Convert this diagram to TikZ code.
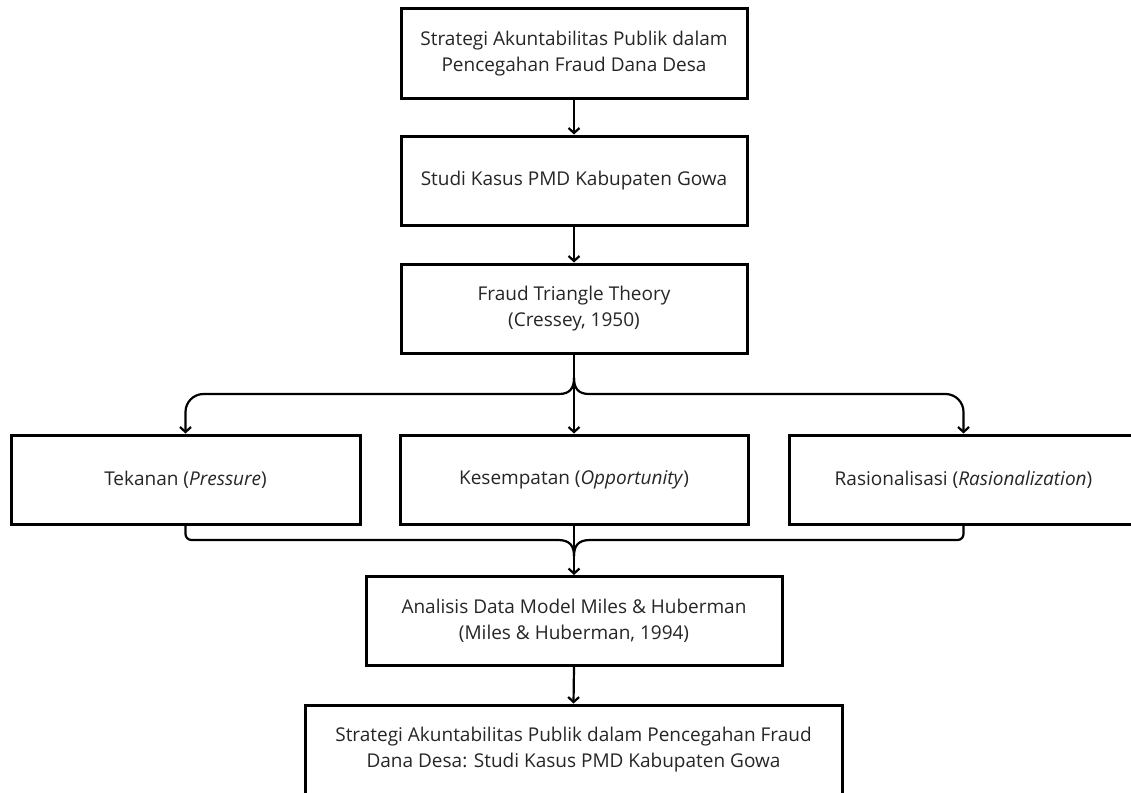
\documentclass[tikz,border=0pt]{standalone}
\usepackage{fontspec}
\setmainfont{Open Sans}
\usetikzlibrary{arrows.meta}
\begin{document}
\begin{tikzpicture}[x=1pt,y=1pt,
  box/.style={draw=black, line width=3pt, fill=white, align=center, minimum height=89pt,
    text=black!85, font=\fontsize{19}{26}\selectfont},
  arr/.style={line width=2.2pt, -{Straight Barb[length=5pt,width=11pt,line width=2.2pt]}},
  link/.style={line width=2.2pt}]
\useasboundingbox (0,0) rectangle (1131,-792);
% main column
\node [box, minimum width=346pt] (judul) at (574,-53.5) {Strategi Akuntabilitas Publik dalam\\Pencegahan Fraud Dana Desa};
\node [box, minimum width=346pt] (studi) at (574,-180.5) {Studi Kasus PMD Kabupaten Gowa};
\node [box, minimum width=346pt] (teori) at (574,-308.5) {Fraud Triangle Theory\\(Cressey, 1950)};
% three elements
\node [box, minimum width=349pt] (tekanan) at (185.5,-479.5) {Tekanan (\textit{Pressure})};
\node [box, minimum width=348pt] (kesempatan) at (574,-479.5) {Kesempatan (\textit{Opportunity})};
\node [box, minimum width=349pt] (rasional) at (963.5,-479.5) {Rasionalisasi (\textit{Rasionalization})};
\node [box, minimum width=416pt] (analisis) at (574,-621) {Analisis Data Model Miles \& Huberman\\(Miles \& Huberman, 1994)};
\node [box, minimum width=537pt] (hasil) at (573.5,-749.5) {Strategi Akuntabilitas Publik dalam Pencegahan Fraud\\Dana Desa: Studi Kasus PMD Kabupaten Gowa};
% helper points
\coordinate (fork) at (574,-378);
\coordinate (topbar) at (0,-394);
\coordinate (merge) at (574,-556);
\coordinate (lowbar) at (0,-540);
% arrows
\draw [arr] (judul.south) -- (studi.north);
\draw [arr] (studi.south) -- (teori.north);
\draw [arr] (teori.south) -- (kesempatan.north);
\draw [link] (fork) .. controls (574,-388) and (570,-394) .. (559,-394);
\draw [link] (fork) .. controls (574,-388) and (578,-394) .. (589,-394);
\draw [arr, rounded corners=18pt] (559,-394) -- (tekanan.north |- topbar) -- (tekanan.north);
\draw [arr, rounded corners=18pt] (589,-394) -- (rasional.north |- topbar) -- (rasional.north);
\draw [arr] (kesempatan.south) -- (analisis.north);
\draw [link, rounded corners=6pt] (tekanan.south) -- (tekanan.south |- lowbar) -- (558,-540);
\draw [link, rounded corners=6pt] (rasional.south) -- (rasional.south |- lowbar) -- (590,-540);
\draw [link] (558,-540) .. controls (570,-540) and (574,-546) .. (merge);
\draw [link] (590,-540) .. controls (578,-540) and (574,-546) .. (merge);
\draw [arr] (analisis.south) -- (hasil.north);
\end{tikzpicture}
\end{document}
